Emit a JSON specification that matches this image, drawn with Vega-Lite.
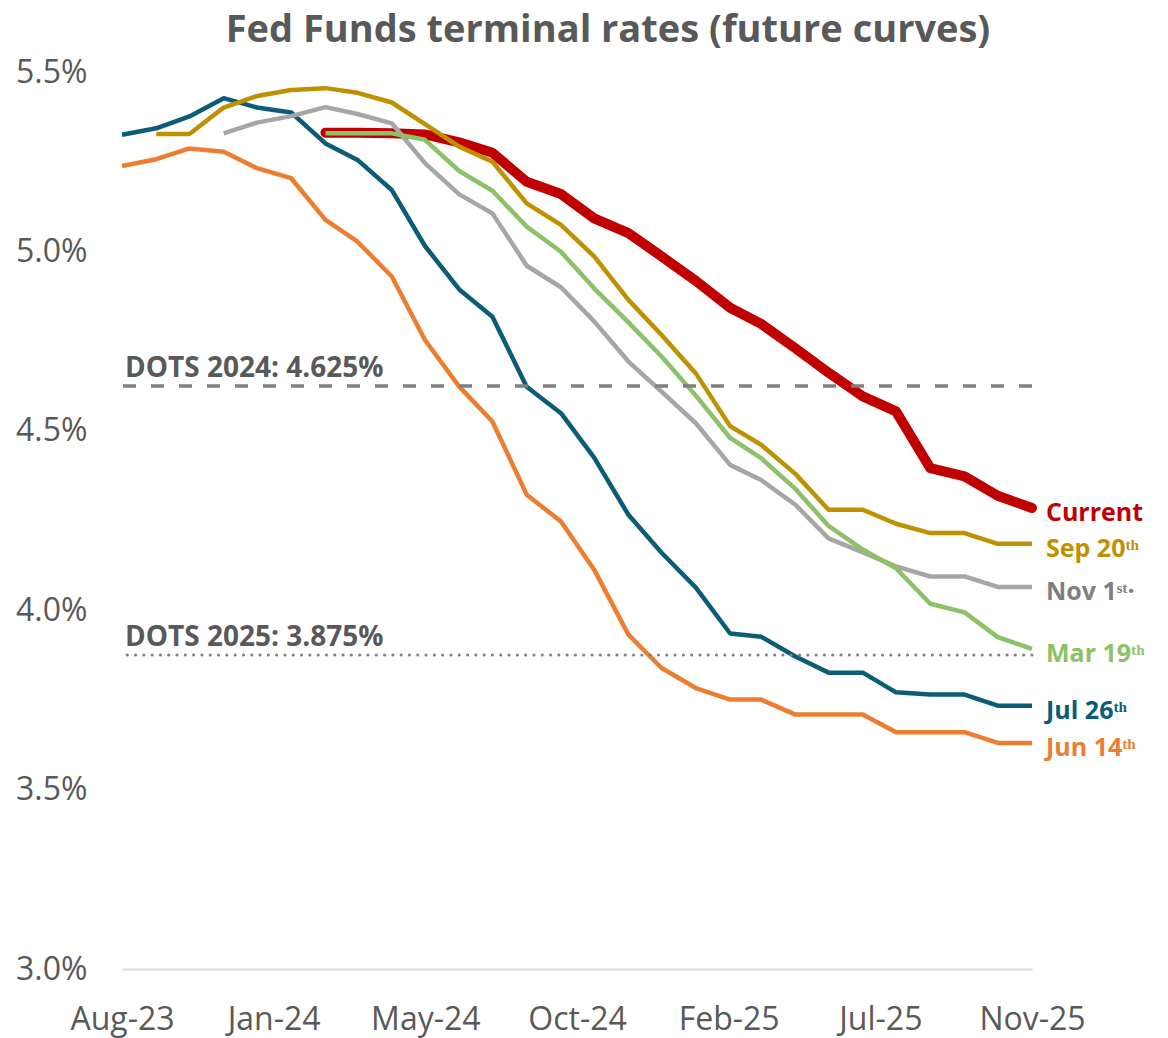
{
  "$schema": "https://vega.github.io/schema/vega-lite/v6.json",
  "width": 910,
  "height": 897,
  "autosize": {"type": "none"},
  "padding": {"left": 122, "top": 72, "right": 136, "bottom": 69},
  "background": "white",
  "title": {
    "text": "Fed Funds terminal rates (future curves)",
    "font": "Open Sans",
    "fontSize": 38,
    "fontWeight": "bold",
    "color": "#595959",
    "anchor": "middle",
    "dx": 31,
    "dy": 32,
    "offset": 8,
    "baseline": "alphabetic"
  },
  "config": {
    "view": {"stroke": null},
    "font": "Open Sans",
    "axis": {"grid": false, "ticks": false, "labelFont": "Open Sans", "labelFontSize": 32, "labelColor": "#595959"},
    "axisX": {"domain": true, "domainColor": "#D9D9D9", "domainWidth": 2, "labelPadding": 35, "labelFlush": false, "labelOverlap": false, "labelBound": false},
    "axisY": {"domain": false, "labelPadding": 35}
  },
  "datasets": {
    "curves": [
      {"series": "Current", "date": "2024-02-01", "value": 5.331},
      {"series": "Current", "date": "2024-03-01", "value": 5.331},
      {"series": "Current", "date": "2024-04-01", "value": 5.329},
      {"series": "Current", "date": "2024-05-01", "value": 5.326},
      {"series": "Current", "date": "2024-06-01", "value": 5.304},
      {"series": "Current", "date": "2024-07-01", "value": 5.275},
      {"series": "Current", "date": "2024-08-01", "value": 5.194},
      {"series": "Current", "date": "2024-09-01", "value": 5.160},
      {"series": "Current", "date": "2024-10-01", "value": 5.092},
      {"series": "Current", "date": "2024-11-01", "value": 5.051},
      {"series": "Current", "date": "2024-12-01", "value": 4.986},
      {"series": "Current", "date": "2025-01-01", "value": 4.918},
      {"series": "Current", "date": "2025-02-01", "value": 4.843},
      {"series": "Current", "date": "2025-03-01", "value": 4.798},
      {"series": "Current", "date": "2025-04-01", "value": 4.730},
      {"series": "Current", "date": "2025-05-01", "value": 4.662},
      {"series": "Current", "date": "2025-06-01", "value": 4.596},
      {"series": "Current", "date": "2025-07-01", "value": 4.554},
      {"series": "Current", "date": "2025-08-01", "value": 4.396},
      {"series": "Current", "date": "2025-09-01", "value": 4.373},
      {"series": "Current", "date": "2025-10-01", "value": 4.319},
      {"series": "Current", "date": "2025-11-01", "value": 4.285},

      {"series": "Jun 14\u1d57\u02b0", "date": "2023-08-01", "value": 5.238},
      {"series": "Jun 14\u1d57\u02b0", "date": "2023-09-01", "value": 5.257},
      {"series": "Jun 14\u1d57\u02b0", "date": "2023-10-01", "value": 5.287},
      {"series": "Jun 14\u1d57\u02b0", "date": "2023-11-01", "value": 5.278},
      {"series": "Jun 14\u1d57\u02b0", "date": "2023-12-01", "value": 5.232},
      {"series": "Jun 14\u1d57\u02b0", "date": "2024-01-01", "value": 5.204},
      {"series": "Jun 14\u1d57\u02b0", "date": "2024-02-01", "value": 5.088},
      {"series": "Jun 14\u1d57\u02b0", "date": "2024-03-01", "value": 5.027},
      {"series": "Jun 14\u1d57\u02b0", "date": "2024-04-01", "value": 4.930},
      {"series": "Jun 14\u1d57\u02b0", "date": "2024-05-01", "value": 4.753},
      {"series": "Jun 14\u1d57\u02b0", "date": "2024-06-01", "value": 4.623},
      {"series": "Jun 14\u1d57\u02b0", "date": "2024-07-01", "value": 4.526},
      {"series": "Jun 14\u1d57\u02b0", "date": "2024-08-01", "value": 4.322},
      {"series": "Jun 14\u1d57\u02b0", "date": "2024-09-01", "value": 4.247},
      {"series": "Jun 14\u1d57\u02b0", "date": "2024-10-01", "value": 4.113},
      {"series": "Jun 14\u1d57\u02b0", "date": "2024-11-01", "value": 3.932},
      {"series": "Jun 14\u1d57\u02b0", "date": "2024-12-01", "value": 3.839},
      {"series": "Jun 14\u1d57\u02b0", "date": "2025-01-01", "value": 3.783},
      {"series": "Jun 14\u1d57\u02b0", "date": "2025-02-01", "value": 3.751},
      {"series": "Jun 14\u1d57\u02b0", "date": "2025-03-01", "value": 3.751},
      {"series": "Jun 14\u1d57\u02b0", "date": "2025-04-01", "value": 3.709},
      {"series": "Jun 14\u1d57\u02b0", "date": "2025-05-01", "value": 3.709},
      {"series": "Jun 14\u1d57\u02b0", "date": "2025-06-01", "value": 3.709},
      {"series": "Jun 14\u1d57\u02b0", "date": "2025-07-01", "value": 3.660},
      {"series": "Jun 14\u1d57\u02b0", "date": "2025-08-01", "value": 3.660},
      {"series": "Jun 14\u1d57\u02b0", "date": "2025-09-01", "value": 3.660},
      {"series": "Jun 14\u1d57\u02b0", "date": "2025-10-01", "value": 3.630},
      {"series": "Jun 14\u1d57\u02b0", "date": "2025-11-01", "value": 3.630},

      {"series": "Jul 26\u1d57\u02b0", "date": "2023-08-01", "value": 5.325},
      {"series": "Jul 26\u1d57\u02b0", "date": "2023-09-01", "value": 5.343},
      {"series": "Jul 26\u1d57\u02b0", "date": "2023-10-01", "value": 5.376},
      {"series": "Jul 26\u1d57\u02b0", "date": "2023-11-01", "value": 5.427},
      {"series": "Jul 26\u1d57\u02b0", "date": "2023-12-01", "value": 5.401},
      {"series": "Jul 26\u1d57\u02b0", "date": "2024-01-01", "value": 5.387},
      {"series": "Jul 26\u1d57\u02b0", "date": "2024-02-01", "value": 5.301},
      {"series": "Jul 26\u1d57\u02b0", "date": "2024-03-01", "value": 5.255},
      {"series": "Jul 26\u1d57\u02b0", "date": "2024-04-01", "value": 5.171},
      {"series": "Jul 26\u1d57\u02b0", "date": "2024-05-01", "value": 5.015},
      {"series": "Jul 26\u1d57\u02b0", "date": "2024-06-01", "value": 4.894},
      {"series": "Jul 26\u1d57\u02b0", "date": "2024-07-01", "value": 4.818},
      {"series": "Jul 26\u1d57\u02b0", "date": "2024-08-01", "value": 4.623},
      {"series": "Jul 26\u1d57\u02b0", "date": "2024-09-01", "value": 4.549},
      {"series": "Jul 26\u1d57\u02b0", "date": "2024-10-01", "value": 4.425},
      {"series": "Jul 26\u1d57\u02b0", "date": "2024-11-01", "value": 4.266},
      {"series": "Jul 26\u1d57\u02b0", "date": "2024-12-01", "value": 4.160},
      {"series": "Jul 26\u1d57\u02b0", "date": "2025-01-01", "value": 4.063},
      {"series": "Jul 26\u1d57\u02b0", "date": "2025-02-01", "value": 3.935},
      {"series": "Jul 26\u1d57\u02b0", "date": "2025-03-01", "value": 3.926},
      {"series": "Jul 26\u1d57\u02b0", "date": "2025-04-01", "value": 3.871},
      {"series": "Jul 26\u1d57\u02b0", "date": "2025-05-01", "value": 3.826},
      {"series": "Jul 26\u1d57\u02b0", "date": "2025-06-01", "value": 3.826},
      {"series": "Jul 26\u1d57\u02b0", "date": "2025-07-01", "value": 3.771},
      {"series": "Jul 26\u1d57\u02b0", "date": "2025-08-01", "value": 3.765},
      {"series": "Jul 26\u1d57\u02b0", "date": "2025-09-01", "value": 3.765},
      {"series": "Jul 26\u1d57\u02b0", "date": "2025-10-01", "value": 3.734},
      {"series": "Jul 26\u1d57\u02b0", "date": "2025-11-01", "value": 3.734},

      {"series": "Sep 20\u1d57\u02b0", "date": "2023-09-01", "value": 5.327},
      {"series": "Sep 20\u1d57\u02b0", "date": "2023-10-01", "value": 5.327},
      {"series": "Sep 20\u1d57\u02b0", "date": "2023-11-01", "value": 5.401},
      {"series": "Sep 20\u1d57\u02b0", "date": "2023-12-01", "value": 5.433},
      {"series": "Sep 20\u1d57\u02b0", "date": "2024-01-01", "value": 5.450},
      {"series": "Sep 20\u1d57\u02b0", "date": "2024-02-01", "value": 5.455},
      {"series": "Sep 20\u1d57\u02b0", "date": "2024-03-01", "value": 5.442},
      {"series": "Sep 20\u1d57\u02b0", "date": "2024-04-01", "value": 5.415},
      {"series": "Sep 20\u1d57\u02b0", "date": "2024-05-01", "value": 5.355},
      {"series": "Sep 20\u1d57\u02b0", "date": "2024-06-01", "value": 5.292},
      {"series": "Sep 20\u1d57\u02b0", "date": "2024-07-01", "value": 5.250},
      {"series": "Sep 20\u1d57\u02b0", "date": "2024-08-01", "value": 5.134},
      {"series": "Sep 20\u1d57\u02b0", "date": "2024-09-01", "value": 5.074},
      {"series": "Sep 20\u1d57\u02b0", "date": "2024-10-01", "value": 4.986},
      {"series": "Sep 20\u1d57\u02b0", "date": "2024-11-01", "value": 4.865},
      {"series": "Sep 20\u1d57\u02b0", "date": "2024-12-01", "value": 4.767},
      {"series": "Sep 20\u1d57\u02b0", "date": "2025-01-01", "value": 4.660},
      {"series": "Sep 20\u1d57\u02b0", "date": "2025-02-01", "value": 4.513},
      {"series": "Sep 20\u1d57\u02b0", "date": "2025-03-01", "value": 4.461},
      {"series": "Sep 20\u1d57\u02b0", "date": "2025-04-01", "value": 4.380},
      {"series": "Sep 20\u1d57\u02b0", "date": "2025-05-01", "value": 4.280},
      {"series": "Sep 20\u1d57\u02b0", "date": "2025-06-01", "value": 4.280},
      {"series": "Sep 20\u1d57\u02b0", "date": "2025-07-01", "value": 4.241},
      {"series": "Sep 20\u1d57\u02b0", "date": "2025-08-01", "value": 4.215},
      {"series": "Sep 20\u1d57\u02b0", "date": "2025-09-01", "value": 4.215},
      {"series": "Sep 20\u1d57\u02b0", "date": "2025-10-01", "value": 4.185},
      {"series": "Sep 20\u1d57\u02b0", "date": "2025-11-01", "value": 4.185},

      {"series": "Nov 1\u02e2\u1d57\u00b7", "date": "2023-11-01", "value": 5.329},
      {"series": "Nov 1\u02e2\u1d57\u00b7", "date": "2023-12-01", "value": 5.359},
      {"series": "Nov 1\u02e2\u1d57\u00b7", "date": "2024-01-01", "value": 5.377},
      {"series": "Nov 1\u02e2\u1d57\u00b7", "date": "2024-02-01", "value": 5.402},
      {"series": "Nov 1\u02e2\u1d57\u00b7", "date": "2024-03-01", "value": 5.383},
      {"series": "Nov 1\u02e2\u1d57\u00b7", "date": "2024-04-01", "value": 5.357},
      {"series": "Nov 1\u02e2\u1d57\u00b7", "date": "2024-05-01", "value": 5.246},
      {"series": "Nov 1\u02e2\u1d57\u00b7", "date": "2024-06-01", "value": 5.159},
      {"series": "Nov 1\u02e2\u1d57\u00b7", "date": "2024-07-01", "value": 5.106},
      {"series": "Nov 1\u02e2\u1d57\u00b7", "date": "2024-08-01", "value": 4.960},
      {"series": "Nov 1\u02e2\u1d57\u00b7", "date": "2024-09-01", "value": 4.900},
      {"series": "Nov 1\u02e2\u1d57\u00b7", "date": "2024-10-01", "value": 4.805},
      {"series": "Nov 1\u02e2\u1d57\u00b7", "date": "2024-11-01", "value": 4.693},
      {"series": "Nov 1\u02e2\u1d57\u00b7", "date": "2024-12-01", "value": 4.609},
      {"series": "Nov 1\u02e2\u1d57\u00b7", "date": "2025-01-01", "value": 4.521},
      {"series": "Nov 1\u02e2\u1d57\u00b7", "date": "2025-02-01", "value": 4.405},
      {"series": "Nov 1\u02e2\u1d57\u00b7", "date": "2025-03-01", "value": 4.363},
      {"series": "Nov 1\u02e2\u1d57\u00b7", "date": "2025-04-01", "value": 4.294},
      {"series": "Nov 1\u02e2\u1d57\u00b7", "date": "2025-05-01", "value": 4.200},
      {"series": "Nov 1\u02e2\u1d57\u00b7", "date": "2025-06-01", "value": 4.161},
      {"series": "Nov 1\u02e2\u1d57\u00b7", "date": "2025-07-01", "value": 4.122},
      {"series": "Nov 1\u02e2\u1d57\u00b7", "date": "2025-08-01", "value": 4.094},
      {"series": "Nov 1\u02e2\u1d57\u00b7", "date": "2025-09-01", "value": 4.094},
      {"series": "Nov 1\u02e2\u1d57\u00b7", "date": "2025-10-01", "value": 4.065},
      {"series": "Nov 1\u02e2\u1d57\u00b7", "date": "2025-11-01", "value": 4.065},

      {"series": "Mar 19\u1d57\u02b0", "date": "2024-02-01", "value": 5.329},
      {"series": "Mar 19\u1d57\u02b0", "date": "2024-03-01", "value": 5.329},
      {"series": "Mar 19\u1d57\u02b0", "date": "2024-04-01", "value": 5.329},
      {"series": "Mar 19\u1d57\u02b0", "date": "2024-05-01", "value": 5.311},
      {"series": "Mar 19\u1d57\u02b0", "date": "2024-06-01", "value": 5.224},
      {"series": "Mar 19\u1d57\u02b0", "date": "2024-07-01", "value": 5.169},
      {"series": "Mar 19\u1d57\u02b0", "date": "2024-08-01", "value": 5.069},
      {"series": "Mar 19\u1d57\u02b0", "date": "2024-09-01", "value": 4.999},
      {"series": "Mar 19\u1d57\u02b0", "date": "2024-10-01", "value": 4.897},
      {"series": "Mar 19\u1d57\u02b0", "date": "2024-11-01", "value": 4.802},
      {"series": "Mar 19\u1d57\u02b0", "date": "2024-12-01", "value": 4.707},
      {"series": "Mar 19\u1d57\u02b0", "date": "2025-01-01", "value": 4.598},
      {"series": "Mar 19\u1d57\u02b0", "date": "2025-02-01", "value": 4.480},
      {"series": "Mar 19\u1d57\u02b0", "date": "2025-03-01", "value": 4.424},
      {"series": "Mar 19\u1d57\u02b0", "date": "2025-04-01", "value": 4.338},
      {"series": "Mar 19\u1d57\u02b0", "date": "2025-05-01", "value": 4.235},
      {"series": "Mar 19\u1d57\u02b0", "date": "2025-06-01", "value": 4.169},
      {"series": "Mar 19\u1d57\u02b0", "date": "2025-07-01", "value": 4.117},
      {"series": "Mar 19\u1d57\u02b0", "date": "2025-08-01", "value": 4.018},
      {"series": "Mar 19\u1d57\u02b0", "date": "2025-09-01", "value": 3.994},
      {"series": "Mar 19\u1d57\u02b0", "date": "2025-10-01", "value": 3.925},
      {"series": "Mar 19\u1d57\u02b0", "date": "2025-11-01", "value": 3.892}
    ],
    "dots": [
      {"name": "DOTS 2024: 4.625%", "value": 4.625},
      {"name": "DOTS 2025: 3.875%", "value": 3.875}
    ]
  },
  "layer": [
    {
      "data": {"name": "curves"},
      "transform": [{"filter": "datum.series === 'Current'"}],
      "mark": {"type": "line", "strokeWidth": 10, "strokeCap": "round", "strokeJoin": "round"},
      "encoding": {
        "x": {
          "field": "date", "type": "temporal",
          "scale": {"type": "utc", "domain": [{"year": 2023, "month": 8, "date": 1, "utc": true}, {"year": 2025, "month": 11, "date": 1, "utc": true}]},
          "axis": {
            "title": null,
            "values": [
              {"year": 2023, "month": 8, "date": 1, "utc": true},
              {"year": 2023, "month": 12, "date": 16, "hours": 4, "utc": true},
              {"year": 2024, "month": 5, "date": 1, "hours": 8, "utc": true},
              {"year": 2024, "month": 9, "date": 15, "hours": 12, "utc": true},
              {"year": 2025, "month": 1, "date": 30, "hours": 16, "utc": true},
              {"year": 2025, "month": 6, "date": 16, "hours": 20, "utc": true},
              {"year": 2025, "month": 11, "date": 1, "utc": true}
            ],
            "labelExpr": "utcFormat(datum.value + 20 * 86400000, '%b-%y')"
          }
        },
        "y": {
          "field": "value", "type": "quantitative",
          "scale": {"domain": [3, 5.5], "nice": false, "zero": false},
          "axis": {
            "title": null,
            "values": [3, 3.5, 4, 4.5, 5, 5.5],
            "labelExpr": "format(datum.value, '.1f') + '%'"
          }
        },
        "color": {
          "field": "series", "type": "nominal", "legend": null,
          "scale": {
            "domain": ["Current", "Jun 14\u1d57\u02b0", "Jul 26\u1d57\u02b0", "Sep 20\u1d57\u02b0", "Nov 1\u02e2\u1d57\u00b7", "Mar 19\u1d57\u02b0"],
            "range": ["#C00000", "#ED7D31", "#0A5C77", "#BF9000", "#A6A6A6", "#8CC168"]
          }
        }
      }
    },
    {
      "data": {"name": "curves"},
      "transform": [{"filter": "datum.series !== 'Current'"}],
      "mark": {"type": "line", "strokeWidth": 4.5, "strokeJoin": "round"},
      "encoding": {
        "x": {"field": "date", "type": "temporal", "axis": {"title": null}},
        "y": {"field": "value", "type": "quantitative", "axis": {"title": null}},
        "color": {
          "field": "series", "type": "nominal", "legend": null,
          "scale": {
            "domain": ["Current", "Jun 14\u1d57\u02b0", "Jul 26\u1d57\u02b0", "Sep 20\u1d57\u02b0", "Nov 1\u02e2\u1d57\u00b7", "Mar 19\u1d57\u02b0"],
            "range": ["#C00000", "#ED7D31", "#0A5C77", "#BF9000", "#A6A6A6", "#8CC168"]
          }
        }
      }
    },
    {
      "data": {"name": "dots"},
      "transform": [{"filter": "datum.value > 4"}],
      "mark": {"type": "rule", "color": "#7F7F7F", "strokeWidth": 3.5, "strokeDash": [13, 15]},
      "encoding": {"y": {"field": "value", "type": "quantitative", "axis": {"title": null}}}
    },
    {
      "data": {"name": "dots"},
      "transform": [{"filter": "datum.value < 4"}],
      "mark": {"type": "rule", "color": "#7F7F7F", "strokeWidth": 3, "strokeDash": [0.1, 8.2], "strokeCap": "round"},
      "encoding": {"y": {"field": "value", "type": "quantitative", "axis": {"title": null}}}
    },
    {
      "data": {"name": "dots"},
      "mark": {"type": "text", "align": "left", "baseline": "alphabetic", "dx": 3, "dy": -9, "font": "Open Sans", "fontSize": 28, "fontWeight": "bold", "color": "#595959"},
      "encoding": {
        "x": {"datum": {"year": 2023, "month": 8, "date": 1, "utc": true}, "type": "temporal", "axis": {"title": null}},
        "y": {"field": "value", "type": "quantitative", "axis": {"title": null}},
        "text": {"field": "name"}
      }
    },
    {
      "data": {"name": "curves"},
      "transform": [{"filter": "time(datum.date) === utc(2025, 10, 1)"}],
      "mark": {"type": "text", "align": "left", "baseline": "middle", "dx": 14, "dy": 5, "font": "Open Sans", "fontSize": 25, "fontWeight": "bold"},
      "encoding": {
        "x": {"field": "date", "type": "temporal", "axis": {"title": null}},
        "y": {"field": "value", "type": "quantitative", "axis": {"title": null}},
        "text": {"field": "series"},
        "color": {
          "field": "series", "type": "nominal", "legend": null,
          "scale": {
            "domain": ["Current", "Jun 14\u1d57\u02b0", "Jul 26\u1d57\u02b0", "Sep 20\u1d57\u02b0", "Nov 1\u02e2\u1d57\u00b7", "Mar 19\u1d57\u02b0"],
            "range": ["#C00000", "#ED7D31", "#0A5C77", "#BF9000", "#7F7F7F", "#8CC168"]
          }
        }
      }
    }
  ],
  "resolve": {"scale": {"color": "independent"}}
}
